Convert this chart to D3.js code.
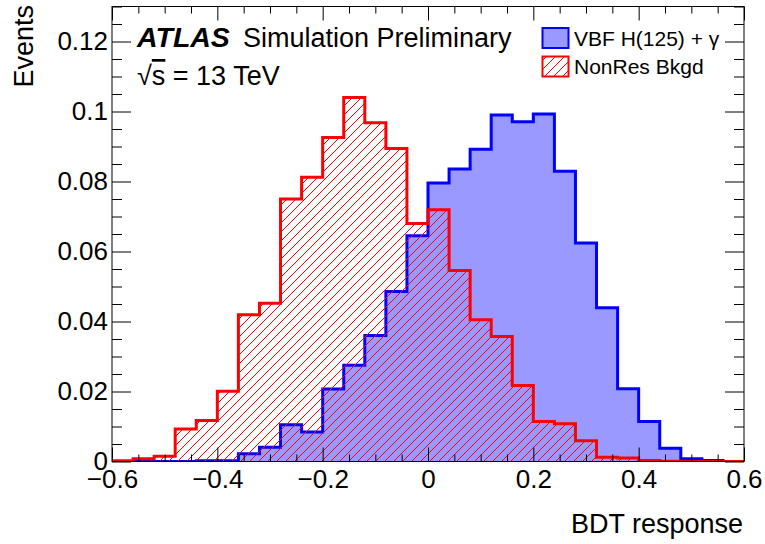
<!DOCTYPE html>
<html>
<head>
<meta charset="utf-8">
<script src="https://cdn.jsdelivr.net/npm/d3@7"></script>
<style>
  body { margin: 0; background: #fff; }
  svg { display: block; font-family: "Liberation Sans", Arial, Helvetica, sans-serif; }
</style>
</head>
<body>
<div id="chart"></div>
<script>
// BDT response, signal vs non-resonant background (normalised)
const binEdges = [-0.6, -0.56, -0.52, -0.48, -0.44, -0.4, -0.36, -0.32, -0.28, -0.24,
  -0.2, -0.16, -0.12, -0.08, -0.04, 0, 0.04, 0.08, 0.12, 0.16,
  0.2, 0.24, 0.28, 0.32, 0.36, 0.4, 0.44, 0.48, 0.52, 0.56, 0.6]

const signalValues = [0, 0, 0, 0, 0.0002, 0.0002, 0.0022, 0.0041, 0.0105, 0.0084,
  0.0207, 0.0275, 0.0360, 0.0486, 0.0645, 0.0796, 0.0836, 0.0892, 0.0990, 0.0971,
  0.0993, 0.0829, 0.0624, 0.0439, 0.0208, 0.0114, 0.0038, 0.0008, 0.0003, 0]

const bkgdValues = [0.0002, 0.0008, 0.0015, 0.0093, 0.0117, 0.0201, 0.0419, 0.0452, 0.0750, 0.0812,
  0.0926, 0.1040, 0.0968, 0.0894, 0.0680, 0.0719, 0.0546, 0.0405, 0.0357, 0.0217,
  0.0114, 0.0108, 0.0059, 0.0012, 0.0010, 0.0003, 0.0001, 0, 0, 0]

const xTicks = [-0.6, -0.4, -0.2, 0, 0.2, 0.4, 0.6]
const xTickLabels = ["\u22120.6", "\u22120.4", "\u22120.2", "0", "0.2", "0.4", "0.6"]
const yTicks = [0, 0.02, 0.04, 0.06, 0.08, 0.1, 0.12]
const yTickLabels = ["0", "0.02", "0.04", "0.06", "0.08", "0.1", "0.12"]

const seriesNames = ["VBF H(125) + \u03b3", "NonRes Bkgd"]

const W = 765, H = 544
const margin = { left: 112, right: 744, top: 6.5, bottom: 461.5 }

const svg = d3.select("#chart").append("svg")
  .attr("width", W)
  .attr("height", H)

const x = d3.scaleLinear().domain([-0.6, 0.6]).range([margin.left, margin.right])
const y = d3.scaleLinear().domain([0, 0.13]).range([margin.bottom, margin.top])

const defs = svg.append("defs")
defs.append("clipPath").attr("id", "plotclip")
  .append("rect")
  .attr("x", margin.left).attr("y", margin.top)
  .attr("width", margin.right - margin.left).attr("height", margin.bottom - margin.top)

// red "/" hatching
const hatch = defs.append("pattern")
  .attr("id", "hatch")
  .attr("patternUnits", "userSpaceOnUse")
  .attr("width", 9)
  .attr("height", 9)
hatch.append("path")
  .attr("d", "M-1,1 l2,-2 M0,9 l9,-9 M8,10 l2,-2")
  .attr("stroke", "#ff0000")
  .attr("stroke-width", 1)

// step points for a histogram, closed back to zero at the ends
function histPoints(values) {
  const pts = [[binEdges[0], 0]]
  values.forEach((v, i) => pts.push([binEdges[i], v]))
  pts.push([binEdges[binEdges.length - 1], values[values.length - 1]])
  pts.push([binEdges[binEdges.length - 1], 0])
  return pts
}

const area = d3.area()
  .x(d => x(d[0]))
  .y0(y(0))
  .y1(d => y(d[1]))
  .curve(d3.curveStepAfter)

const line = d3.line()
  .x(d => x(d[0]))
  .y(d => y(d[1]))
  .curve(d3.curveStepAfter)

const plot = svg.append("g").attr("clip-path", "url(#plotclip)")

const sigPts = histPoints(signalValues)
const bkgPts = histPoints(bkgdValues)

plot.append("path")
  .attr("d", area(sigPts))
  .attr("fill", "#9999ff")

plot.append("path")
  .attr("d", line(sigPts))
  .attr("fill", "none")
  .attr("stroke", "#0000ff")
  .attr("stroke-width", 3)

plot.append("path")
  .attr("d", area(bkgPts))
  .attr("fill", "url(#hatch)")

plot.append("path")
  .attr("d", line(bkgPts))
  .attr("fill", "none")
  .attr("stroke", "#ff0000")
  .attr("stroke-width", 3)

// axes: ROOT-like ticks pointing inwards on all four sides
const xMinor = d3.range(-0.6, 0.6001, 0.05).filter(v => Math.abs(Math.round(v * 5) - v * 5) > 1e-6)
const yMinor = d3.range(0, 0.1301, 0.005).filter(v => Math.abs(Math.round(v * 50) - v * 50) > 1e-6)

function styleAxis(g) {
  g.select(".domain").remove()
  g.selectAll(".tick line").attr("stroke", "#000").attr("stroke-width", 1)
  g.selectAll(".tick text")
    .attr("fill", "#000")
    .style("font-size", "26px")
    .style("font-family", "'Liberation Sans', Arial, sans-serif")
}

svg.append("g")
  .attr("transform", `translate(0,${margin.bottom})`)
  .call(d3.axisBottom(x).tickValues(xTicks).tickSizeInner(-14).tickSizeOuter(0).tickPadding(8)
    .tickFormat((d, i) => xTickLabels[i]))
  .call(styleAxis)

svg.append("g")
  .attr("transform", `translate(0,${margin.bottom})`)
  .call(d3.axisBottom(x).tickValues(xMinor).tickSizeInner(-7).tickSizeOuter(0).tickFormat(""))
  .call(styleAxis)

svg.append("g")
  .attr("transform", `translate(0,${margin.top})`)
  .call(d3.axisTop(x).tickValues(xTicks).tickSizeInner(-14).tickSizeOuter(0).tickFormat(""))
  .call(styleAxis)

svg.append("g")
  .attr("transform", `translate(0,${margin.top})`)
  .call(d3.axisTop(x).tickValues(xMinor).tickSizeInner(-7).tickSizeOuter(0).tickFormat(""))
  .call(styleAxis)

svg.append("g")
  .attr("transform", `translate(${margin.left},0)`)
  .call(d3.axisLeft(y).tickValues(yTicks).tickSizeInner(-19).tickSizeOuter(0).tickPadding(4)
    .tickFormat((d, i) => yTickLabels[i]))
  .call(styleAxis)

svg.append("g")
  .attr("transform", `translate(${margin.left},0)`)
  .call(d3.axisLeft(y).tickValues(yMinor).tickSizeInner(-10).tickSizeOuter(0).tickFormat(""))
  .call(styleAxis)

svg.append("g")
  .attr("transform", `translate(${margin.right},0)`)
  .call(d3.axisRight(y).tickValues(yTicks).tickSizeInner(-19).tickSizeOuter(0).tickFormat(""))
  .call(styleAxis)

svg.append("g")
  .attr("transform", `translate(${margin.right},0)`)
  .call(d3.axisRight(y).tickValues(yMinor).tickSizeInner(-10).tickSizeOuter(0).tickFormat(""))
  .call(styleAxis)

// frame
svg.append("rect")
  .attr("x", margin.left).attr("y", margin.top)
  .attr("width", margin.right - margin.left).attr("height", margin.bottom - margin.top)
  .attr("fill", "none")
  .attr("stroke", "#000")
  .attr("stroke-width", 1)

// axis titles
svg.append("text")
  .attr("transform", "translate(33,5) rotate(-90)")
  .attr("text-anchor", "end")
  .style("font-size", "27px")
  .text("Events")

svg.append("text")
  .attr("x", 743)
  .attr("y", 533)
  .attr("text-anchor", "end")
  .style("font-size", "27px")
  .text("BDT response")

// ATLAS label
const atlas = svg.append("text")
  .attr("x", 137)
  .attr("y", 47)
  .style("font-size", "27px")
atlas.append("tspan")
  .style("font-weight", "bold")
  .style("font-style", "italic")
  .style("font-size", "28.5px")
  .text("ATLAS")
atlas.append("tspan")
  .attr("x", 243)
  .text("Simulation Preliminary")

// sqrt(s) with the bar over the s, like ROOT's #sqrt{s}
const energy = svg.append("text")
  .attr("x", 137)
  .attr("y", 85)
  .style("font-size", "27px")
energy.append("tspan").text("\u221a")
energy.append("tspan")
  .style("text-decoration", "overline")
  .text("s")
energy.append("tspan").text(" = 13 TeV")

// legend
const legend = svg.append("g")
const legendRows = [
  { name: seriesNames[0], fill: "#9999ff", stroke: "#0000ff" },
  { name: seriesNames[1], fill: "url(#hatch)", stroke: "#ff0000" }
]
legendRows.forEach((d, i) => {
  const ly = 28 + i * 28.5
  legend.append("rect")
    .attr("x", 542.5).attr("y", ly)
    .attr("width", 26).attr("height", 20)
    .attr("fill", d.fill)
    .attr("stroke", d.stroke)
    .attr("stroke-width", 2)
  legend.append("text")
    .attr("x", 574)
    .attr("y", ly + 17.5)
    .style("font-size", "21px")
    .text(d.name)
})
</script>
</body>
</html>
